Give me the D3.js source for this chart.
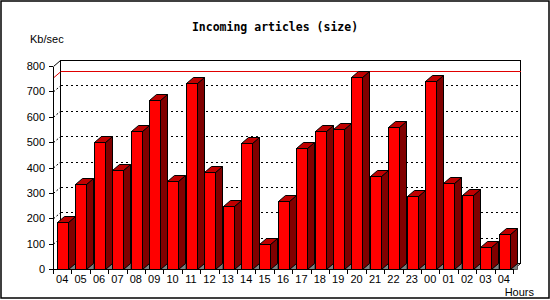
<!DOCTYPE html>
<html>
<head>
<meta charset="utf-8">
<script src="https://cdn.jsdelivr.net/npm/d3@7"></script>
<style>
body { margin: 0; background: #fff; }
</style>
</head>
<body>
<div id="chart"></div>
<script>
// hourly values
const hours = ["04", "05", "06", "07", "08", "09", "10", "11", "12", "13", "14", "15", "16",
  "17", "18", "19", "20", "21", "22", "23", "00", "01", "02", "03", "04"];
const kbSec = [186, 336, 502, 392, 543, 666, 348, 733, 384, 247, 496, 97, 269,
  476, 543, 551, 755, 365, 558, 286, 740, 338, 290, 85, 136];
const yTicks = [0, 100, 200, 300, 400, 500, 600, 700, 800];

const width = 550, height = 300;
const dx = 7, dy = -6; // depth of the 3d effect
const font = "'Liberation Sans', Arial, sans-serif";

const svg = d3.select("#chart")
  .append("svg")
  .attr("width", width)
  .attr("height", height);

// outer frame
svg.append("rect")
  .attr("x", 1).attr("y", 1)
  .attr("width", width - 2).attr("height", height - 3)
  .attr("fill", "#fff").attr("stroke", "#000").attr("stroke-width", 1.5);

const x = d3.scaleBand().domain(d3.range(hours.length)).range([53, 513]);
const y = d3.scaleLinear().domain([0, 800]).range([269, 66]);

const left = 53.5, right = 513.5, floor = y(0) + 0.5;
const wallTop = y(800) + 0.5 + dy, wallBottom = floor + dy;

const g = svg.append("g").attr("shape-rendering", "crispEdges");

// back wall
g.append("rect")
  .attr("x", left + dx).attr("y", wallTop)
  .attr("width", right - left).attr("height", wallBottom - wallTop)
  .attr("fill", "#fff").attr("stroke", "#000");

// dotted grid on the back wall + little diagonals on the left side
yTicks.filter(v => v > 0 && v < 800).forEach(v => {
  const yy = y(v) + 0.5;
  g.append("line")
    .attr("x1", left + dx).attr("x2", right + dx)
    .attr("y1", yy + dy).attr("y2", yy + dy)
    .attr("stroke", "#000").attr("stroke-dasharray", "2,3");
  g.append("line")
    .attr("x1", left).attr("x2", left + dx)
    .attr("y1", yy).attr("y2", yy + dy)
    .attr("stroke", "#000").attr("stroke-dasharray", "2,2")
    .attr("shape-rendering", "auto");
});

// max line in red
const maxY = y(d3.max(kbSec)) + 0.5;
g.append("line")
  .attr("x1", left + dx).attr("x2", right + dx)
  .attr("y1", maxY + dy).attr("y2", maxY + dy)
  .attr("stroke", "#e00000");
g.append("line")
  .attr("x1", left).attr("x2", left + dx)
  .attr("y1", maxY).attr("y2", maxY + dy)
  .attr("stroke", "#e00000").attr("shape-rendering", "auto");

// top-left and floor diagonals
g.append("line")
  .attr("x1", left).attr("y1", y(800) + 0.5)
  .attr("x2", left + dx).attr("y2", wallTop)
  .attr("stroke", "#000").attr("shape-rendering", "auto");
g.append("line")
  .attr("x1", right).attr("y1", floor)
  .attr("x2", right + dx).attr("y2", wallBottom)
  .attr("stroke", "#000").attr("shape-rendering", "auto");

// bars
const pts = p => p.map(d => d.join(",")).join(" ");
const bars = g.selectAll(".bar")
  .data(kbSec)
  .enter()
  .append("g")
  .attr("class", "bar")
  .attr("shape-rendering", "auto");

bars.each(function (v, i) {
  const b = d3.select(this);
  const fx = Math.round(x(i) + 4) + 0.5;
  const fw = 11;
  const top = Math.round(y(v)) + 0.5;
  b.append("polygon")
    .attr("points", pts([[fx + fw, floor], [fx + fw + dx, floor + dy], [fx + fw + dx, floor]]))
    .attr("fill", "#808080").attr("stroke", "#555");
  b.append("polygon")
    .attr("points", pts([[fx + fw, top], [fx + fw + dx, top + dy], [fx + fw + dx, floor + dy], [fx + fw, floor]]))
    .attr("fill", "#800000").attr("stroke", "#000");
  b.append("polygon")
    .attr("points", pts([[fx, top], [fx + dx, top + dy], [fx + fw + dx, top + dy], [fx + fw, top]]))
    .attr("fill", "#c00000").attr("stroke", "#000");
  b.append("rect")
    .attr("x", fx).attr("y", top)
    .attr("width", fw).attr("height", floor - top)
    .attr("fill", "#ff0000").attr("stroke", "#000")
    .attr("shape-rendering", "crispEdges");
});

// y axis
const yAxis = svg.append("g")
  .attr("transform", "translate(53,0)")
  .call(d3.axisLeft(y).tickValues(yTicks).tickSize(4).tickSizeOuter(0).tickPadding(4));
yAxis.selectAll("text").attr("font-family", font).attr("font-size", 11).attr("fill", "#000");
yAxis.attr("shape-rendering", "crispEdges");

// x axis: labels centred, ticks on the band edges
const xAxis = svg.append("g")
  .attr("transform", "translate(0,269)")
  .call(d3.axisBottom(x).tickFormat(i => hours[i]).tickSize(0).tickSizeOuter(0).tickPadding(6));
xAxis.selectAll("text").attr("font-family", font).attr("font-size", 11).attr("fill", "#000");
xAxis.attr("shape-rendering", "crispEdges");

svg.append("g")
  .attr("shape-rendering", "crispEdges")
  .selectAll("line")
  .data(d3.range(hours.length + 1))
  .enter()
  .append("line")
  .attr("x1", i => Math.round(53 + x.step() * i) + 0.5)
  .attr("x2", i => Math.round(53 + x.step() * i) + 0.5)
  .attr("y1", floor).attr("y2", floor + 4)
  .attr("stroke", "#000");

// titles
svg.append("text")
  .attr("x", 275).attr("y", 31)
  .attr("text-anchor", "middle")
  .attr("font-family", "'DejaVu Sans Mono', 'Liberation Mono', monospace")
  .attr("font-weight", "bold")
  .attr("font-size", 11.5)
  .text("Incoming articles (size)");

svg.append("text")
  .attr("x", 30).attr("y", 43)
  .attr("font-family", font).attr("font-size", 11)
  .text("Kb/sec");

svg.append("text")
  .attr("x", 534).attr("y", 296)
  .attr("text-anchor", "end")
  .attr("font-family", font).attr("font-size", 11)
  .text("Hours");
</script>
</body>
</html>
